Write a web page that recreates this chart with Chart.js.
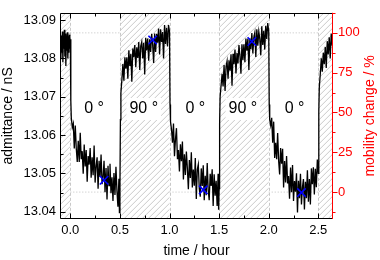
<!DOCTYPE html>
<html>
<head>
<meta charset="utf-8">
<script src="https://cdn.jsdelivr.net/npm/chart.js@4"></script>
<style>
  html, body { margin: 0; padding: 0; background: #fff; }
  canvas { display: block; }
</style>
</head>
<body>
<canvas id="chart" width="380" height="260"></canvas>
<script>
// measured admittance trace (hours, nS), one line per half hour block
const timeHours = [
  -0.100, -0.095, -0.090, -0.085, -0.080, -0.075, -0.070, -0.065, -0.060, -0.055, -0.050, -0.045, -0.040, -0.035, -0.030, -0.025, -0.020, -0.015, -0.010, -0.005, 0.000,
  0.005, 0.01, 0.02, 0.03, 0.04, 0.05, 0.06, 0.07, 0.08, 0.09, 0.10, 0.11, 0.12, 0.13, 0.14, 0.15, 0.16, 0.17, 0.18, 0.19, 0.20, 0.21, 0.22, 0.23, 0.24, 0.25, 0.26, 0.27, 0.28, 0.29, 0.30, 0.31, 0.32, 0.33, 0.34, 0.35, 0.36, 0.37, 0.38, 0.39, 0.40, 0.41, 0.42, 0.43, 0.44, 0.45, 0.46, 0.47, 0.48, 0.49, 0.495, 0.50,
  0.505, 0.51, 0.52, 0.53, 0.54, 0.55, 0.56, 0.57, 0.58, 0.59, 0.60, 0.61, 0.62, 0.63, 0.64, 0.65, 0.66, 0.67, 0.68, 0.69, 0.70, 0.71, 0.72, 0.73, 0.74, 0.75, 0.76, 0.77, 0.78, 0.79, 0.80, 0.81, 0.82, 0.83, 0.84, 0.85, 0.86, 0.87, 0.88, 0.89, 0.90, 0.91, 0.92, 0.93, 0.94, 0.95, 0.96, 0.97, 0.98, 0.99, 1.00,
  1.005, 1.01, 1.02, 1.03, 1.04, 1.05, 1.06, 1.07, 1.08, 1.09, 1.10, 1.11, 1.12, 1.13, 1.14, 1.15, 1.16, 1.17, 1.18, 1.19, 1.20, 1.21, 1.22, 1.23, 1.24, 1.25, 1.26, 1.27, 1.28, 1.29, 1.30, 1.31, 1.32, 1.33, 1.34, 1.35, 1.36, 1.37, 1.38, 1.39, 1.40, 1.41, 1.42, 1.43, 1.44, 1.45, 1.46, 1.47, 1.48, 1.49, 1.495, 1.50,
  1.505, 1.51, 1.52, 1.53, 1.54, 1.55, 1.56, 1.57, 1.58, 1.59, 1.60, 1.61, 1.62, 1.63, 1.64, 1.65, 1.66, 1.67, 1.68, 1.69, 1.70, 1.71, 1.72, 1.73, 1.74, 1.75, 1.76, 1.77, 1.78, 1.79, 1.80, 1.81, 1.82, 1.83, 1.84, 1.85, 1.86, 1.87, 1.88, 1.89, 1.90, 1.91, 1.92, 1.93, 1.94, 1.95, 1.96, 1.97, 1.98, 1.99, 2.00,
  2.005, 2.01, 2.02, 2.03, 2.04, 2.05, 2.06, 2.07, 2.08, 2.09, 2.10, 2.11, 2.12, 2.13, 2.14, 2.15, 2.16, 2.17, 2.18, 2.19, 2.20, 2.21, 2.22, 2.23, 2.24, 2.25, 2.26, 2.27, 2.28, 2.29, 2.30, 2.31, 2.32, 2.33, 2.34, 2.35, 2.36, 2.37, 2.38, 2.39, 2.40, 2.41, 2.42, 2.43, 2.44, 2.45, 2.46, 2.47, 2.48, 2.49, 2.50,
  2.505, 2.51, 2.52, 2.53, 2.54, 2.55, 2.56, 2.57, 2.58, 2.59, 2.60, 2.61, 2.62, 2.63, 2.64, 2.645
];
const admittance = [
  13.0835, 13.0800, 13.0860, 13.0815, 13.0870, 13.0790, 13.0855, 13.0825, 13.0875, 13.0805, 13.0865, 13.0780, 13.0860, 13.0820, 13.0868, 13.0800, 13.0858, 13.0815, 13.0862, 13.0825, 13.0850,
  13.0690, 13.0645, 13.0620, 13.0630, 13.0565, 13.0625, 13.0565, 13.0530, 13.0585, 13.0530, 13.0606, 13.0537, 13.0558, 13.0499, 13.0575, 13.0518, 13.0561, 13.0478, 13.0545, 13.0523, 13.0566, 13.0489, 13.0542, 13.0495, 13.0573, 13.0476, 13.0519, 13.0542, 13.0460, 13.0533, 13.0491, 13.0549, 13.0472, 13.0490, 13.0533, 13.0451, 13.0514, 13.0432, 13.0520, 13.0468, 13.0525, 13.0448, 13.0490, 13.0428, 13.0501, 13.0444, 13.0517, 13.0455, 13.0413, 13.0486, 13.0398, 13.0465,
  13.0640, 13.0710, 13.0745, 13.0785, 13.0742, 13.0803, 13.0773, 13.0803, 13.0747, 13.0821, 13.0780, 13.0812, 13.0739, 13.0826, 13.0803, 13.0835, 13.0777, 13.0829, 13.0801, 13.0843, 13.0770, 13.0832, 13.0843, 13.0800, 13.0841, 13.0758, 13.0854, 13.0821, 13.0852, 13.0794, 13.0850, 13.0817, 13.0864, 13.0836, 13.0788, 13.0865, 13.0817, 13.0864, 13.0841, 13.0878, 13.0810, 13.0876, 13.0843, 13.0869, 13.0800, 13.0887, 13.0838, 13.0880, 13.0831, 13.0887, 13.0870,
  13.0680, 13.0635, 13.0615, 13.0580, 13.0630, 13.0545, 13.0589, 13.0618, 13.0537, 13.0561, 13.0505, 13.0576, 13.0532, 13.0583, 13.0484, 13.0550, 13.0496, 13.0557, 13.0513, 13.0459, 13.0535, 13.0488, 13.0555, 13.0463, 13.0510, 13.0468, 13.0540, 13.0433, 13.0510, 13.0523, 13.0460, 13.0439, 13.0513, 13.0467, 13.0521, 13.0430, 13.0494, 13.0443, 13.0527, 13.0456, 13.0430, 13.0499, 13.0467, 13.0511, 13.0415, 13.0498, 13.0442, 13.0481, 13.0415, 13.0499, 13.0405, 13.0460,
  13.0630, 13.0700, 13.0730, 13.0760, 13.0727, 13.0783, 13.0715, 13.0779, 13.0793, 13.0747, 13.0795, 13.0768, 13.0811, 13.0729, 13.0812, 13.0785, 13.0823, 13.0761, 13.0814, 13.0787, 13.0835, 13.0807, 13.0760, 13.0837, 13.0795, 13.0837, 13.0790, 13.0852, 13.0820, 13.0852, 13.0770, 13.0852, 13.0824, 13.0866, 13.0813, 13.0855, 13.0867, 13.0804, 13.0876, 13.0833, 13.0870, 13.0851, 13.0808, 13.0884, 13.0835, 13.0872, 13.0823, 13.0885, 13.0851, 13.0892, 13.0870,
  13.0680, 13.0640, 13.0625, 13.0645, 13.0580, 13.0635, 13.0540, 13.0580, 13.0537, 13.0605, 13.0533, 13.0497, 13.0566, 13.0525, 13.0564, 13.0463, 13.0532, 13.0476, 13.0545, 13.0474, 13.0493, 13.0434, 13.0515, 13.0451, 13.0522, 13.0428, 13.0480, 13.0452, 13.0500, 13.0398, 13.0481, 13.0435, 13.0499, 13.0419, 13.0464, 13.0485, 13.0406, 13.0478, 13.0435, 13.0508, 13.0426, 13.0485, 13.0419, 13.0513, 13.0472, 13.0516, 13.0445, 13.0512, 13.0464, 13.0536, 13.0500,
  13.0660, 13.0725, 13.0760, 13.0800, 13.0765, 13.0815, 13.0785, 13.0830, 13.0775, 13.0845, 13.0810, 13.0855, 13.0800, 13.0865, 13.0835, 13.0885
];

const markerTimes = [0.34, 0.83, 1.34, 1.83, 2.33];
const markerAdmittance = [13.0482, 13.0848, 13.0457, 13.0844, 13.0450];

const hatchStarts = [-0.2, 0.5, 1.5, 2.5];
const hatchEnds = [0.0, 1.0, 2.0, 2.8];
const whiteStarts = [0.0, 1.0, 2.0];
const whiteEnds = [0.5, 1.5, 2.5];
const referencePct = [0, 100];

const angleLabels = ['0 °', '90 °', '0 °', '90 °', '0 °'];
const angleLabelTimes = [0.24, 0.74, 1.26, 1.74, 2.26];
const angleLabelLevel = 13.0668;

const xTicks = [0.0, 0.5, 1.0, 1.5, 2.0, 2.5];
const leftTicks = [13.04, 13.05, 13.06, 13.07, 13.08, 13.09];
const rightTicks = [0, 25, 50, 75, 100];

const RED = '#ff0000';
const FONT = "'Liberation Sans', Arial, sans-serif";

let trace = timeHours.map((t, i) => ({ x: t, y: admittance[i] }));
let markers = markerTimes.map((t, i) => ({ x: t, y: markerAdmittance[i] }));
let refLine = [];
referencePct.forEach(p => {
    whiteStarts.forEach((s, i) => {
        refLine.push({ x: s, y: p }, { x: whiteEnds[i], y: p }, { x: whiteEnds[i], y: null });
    });
});

function minors(ticks, min, max) {
    let step = ticks[1] - ticks[0];
    let out = [];
    for (let k = -1; k < ticks.length; k++) {
        let v = ticks[0] + step * (k + 0.5);
        if (v >= min && v <= max) out.push(v);
    }
    return out;
}

const framePlugin = {
    id: 'frame',
    beforeDatasetsDraw(chart) {
        const { ctx, chartArea: a, scales: { x, y } } = chart;
        const h = a.bottom - a.top;
        ctx.save();
        ctx.beginPath();
        ctx.rect(a.left, a.top, a.right - a.left, h);
        ctx.clip();
        hatchStarts.forEach((s, i) => {
            let x0 = Math.max(a.left, x.getPixelForValue(s));
            let x1 = Math.min(a.right, x.getPixelForValue(hatchEnds[i]));
            ctx.save();
            ctx.beginPath();
            ctx.rect(x0, a.top, x1 - x0, h);
            ctx.clip();
            ctx.strokeStyle = '#c4c4c4';
            ctx.lineWidth = 0.9;
            ctx.beginPath();
            for (let k = a.left - h; k < a.right; k += 6) {
                ctx.moveTo(k, a.bottom);
                ctx.lineTo(k + h, a.top);
            }
            ctx.stroke();
            ctx.restore();
            ctx.strokeStyle = '#c8c8c8';
            ctx.lineWidth = 1;
            ctx.setLineDash([3, 2]);
            [x0, x1].forEach(px => {
                if (px > a.left + 1 && px < a.right - 1) {
                    ctx.beginPath();
                    ctx.moveTo(Math.round(px) + 0.5, a.top);
                    ctx.lineTo(Math.round(px) + 0.5, a.bottom);
                    ctx.stroke();
                }
            });
            ctx.setLineDash([]);
        });
        ctx.font = '16px ' + FONT;
        ctx.textAlign = 'center';
        ctx.textBaseline = 'middle';
        angleLabels.forEach((txt, i) => {
            let px = x.getPixelForValue(angleLabelTimes[i]);
            let py = y.getPixelForValue(angleLabelLevel);
            let w = ctx.measureText(txt).width + 6;
            ctx.fillStyle = '#fff';
            ctx.fillRect(px - w / 2, py - 11, w, 22);
            ctx.fillStyle = '#000';
            ctx.fillText(txt, px, py);
        });
        ctx.restore();
    },
    afterDraw(chart) {
        const { ctx, chartArea: a, scales: { x, y, y2 } } = chart;
        const L = Math.round(a.left) + 0.5, R = Math.round(a.right) - 0.5;
        const T = Math.round(a.top) + 0.5, B = Math.round(a.bottom) - 0.5;
        ctx.save();
        ctx.lineWidth = 1;
        ctx.strokeStyle = '#000';
        ctx.beginPath();
        ctx.moveTo(R, T); ctx.lineTo(L, T); ctx.lineTo(L, B); ctx.lineTo(R, B);
        // x ticks, bottom and top, pointing inward
        xTicks.forEach(v => {
            let px = Math.round(x.getPixelForValue(v)) + 0.5;
            ctx.moveTo(px, B); ctx.lineTo(px, B - 5);
            ctx.moveTo(px, T); ctx.lineTo(px, T + 5);
        });
        minors(xTicks, x.min, x.max).forEach(v => {
            let px = Math.round(x.getPixelForValue(v)) + 0.5;
            ctx.moveTo(px, B); ctx.lineTo(px, B - 3);
            ctx.moveTo(px, T); ctx.lineTo(px, T + 3);
        });
        leftTicks.forEach(v => {
            let py = Math.round(y.getPixelForValue(v)) + 0.5;
            ctx.moveTo(L, py); ctx.lineTo(L + 5, py);
        });
        minors(leftTicks, y.min, y.max).forEach(v => {
            let py = Math.round(y.getPixelForValue(v)) + 0.5;
            ctx.moveTo(L, py); ctx.lineTo(L + 3, py);
        });
        ctx.stroke();

        ctx.strokeStyle = RED;
        ctx.beginPath();
        ctx.moveTo(R, a.top); ctx.lineTo(R, a.bottom);
        rightTicks.forEach(v => {
            let py = Math.round(y2.getPixelForValue(v)) + 0.5;
            ctx.moveTo(R, py); ctx.lineTo(R + 5, py);
        });
        minors(rightTicks, y2.min, y2.max).forEach(v => {
            let py = Math.round(y2.getPixelForValue(v)) + 0.5;
            ctx.moveTo(R, py); ctx.lineTo(R + 3, py);
        });
        ctx.stroke();

        ctx.fillStyle = RED;
        ctx.font = '14px ' + FONT;
        ctx.textAlign = 'center';
        ctx.textBaseline = 'middle';
        ctx.translate(370, (a.top + a.bottom) / 2);
        ctx.rotate(-Math.PI / 2);
        ctx.fillText('mobility change / %', 0, 0);
        ctx.restore();
    }
};

Chart.defaults.font.family = FONT;
Chart.defaults.color = '#000';

new Chart(document.getElementById('chart'), {
    type: 'line',
    data: {
        datasets: [
            {
                data: markers, showLine: false, yAxisID: 'y',
                pointStyle: 'crossRot', pointRadius: 6,
                pointBorderColor: '#0000ff', pointBorderWidth: 1.6, pointBackgroundColor: '#0000ff'
            },
            {
                data: trace, yAxisID: 'y',
                borderColor: '#000', borderWidth: 1.3, pointRadius: 0, tension: 0
            },
            {
                data: refLine, yAxisID: 'y2', spanGaps: false,
                borderColor: '#c0c0c0', borderWidth: 1, borderDash: [1, 2], pointRadius: 0
            }
        ]
    },
    options: {
        responsive: false,
        animation: false,
        devicePixelRatio: 1,
        layout: { padding: { top: 3, left: 0, right: 0, bottom: 0 } },
        plugins: { legend: { display: false }, tooltip: { enabled: false } },
        scales: {
            x: {
                type: 'linear', min: -0.104, max: 2.648,
                grid: { display: false, drawTicks: false }, border: { display: false },
                ticks: { padding: 4, font: { size: 13 }, maxRotation: 0, autoSkip: false, callback: v => v.toFixed(1) },
                afterBuildTicks: s => { s.ticks = xTicks.map(v => ({ value: v })); },
                afterFit: s => { s.height = 41; },
                title: { display: true, text: 'time / hour', font: { size: 14 }, padding: { top: 0, bottom: 0 } }
            },
            y: {
                position: 'left', min: 13.0381, max: 13.0919,
                grid: { display: false, drawTicks: false }, border: { display: false },
                ticks: { padding: 4, font: { size: 13 }, autoSkip: false, callback: v => v.toFixed(2) },
                afterBuildTicks: s => { s.ticks = leftTicks.map(v => ({ value: v })); },
                afterFit: s => { s.width = 60; },
                title: { display: true, text: 'admittance / nS', font: { size: 14 }, padding: { top: 0, bottom: 0 } }
            },
            y2: {
                position: 'right', min: -16.9, max: 112.6,
                grid: { display: false, drawTicks: false }, border: { display: false },
                ticks: { padding: 5, font: { size: 13 }, color: RED, autoSkip: false, callback: v => String(v) },
                afterBuildTicks: s => { s.ticks = rightTicks.map(v => ({ value: v })); },
                afterFit: s => { s.width = 47; }
            }
        }
    },
    plugins: [framePlugin]
});
</script>
</body>
</html>
